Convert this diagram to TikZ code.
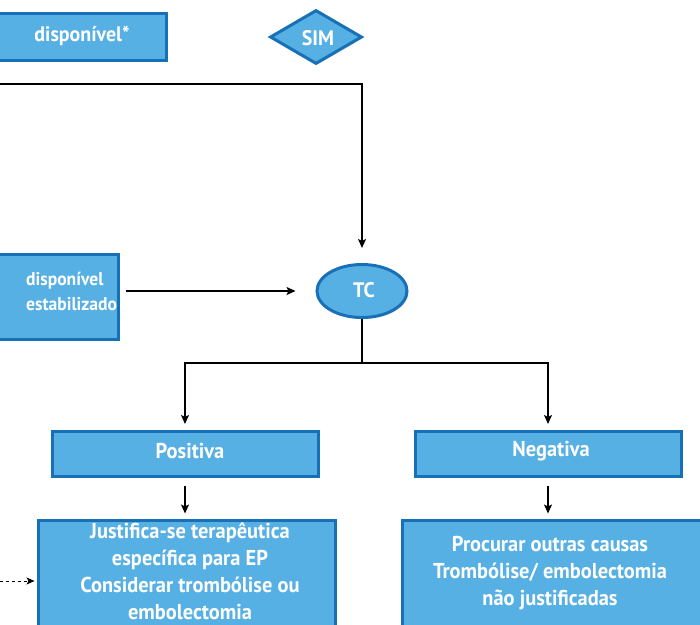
\documentclass[tikz,border=0pt]{standalone}
\usepackage{fontspec}
\setmainfont[FakeStretch=0.95]{PT Sans}
\usetikzlibrary{shapes.geometric,arrows.meta,shadows}
\definecolor{boxfill}{HTML}{56B0E3}
\definecolor{boxline}{HTML}{1870B6}
\begin{document}
\begin{tikzpicture}[x=1pt,y=-1pt,
  bluebox/.style={draw=boxline,line width=3pt,fill=boxfill,inner sep=0pt,
    drop shadow={opacity=0.18,shadow xshift=1.5pt,shadow yshift=-1.5pt}},
  rectbox/.style={bluebox,rectangle},
  wtext/.style={text=white,font=\bfseries\fontsize{21.5}{27}\selectfont,align=center,inner sep=0pt},
  conn/.style={line width=1.5pt,black},
  arr/.style={conn,-{Stealth[length=9pt,width=8pt,inset=2pt]}}]
\useasboundingbox (0,0) rectangle (700,624);
\clip (0,0) rectangle (700,624);
% top left box
\node[rectbox,minimum width=176pt,minimum height=47pt] (d1) at (78,36.5) {};
\node[wtext,font=\bfseries\fontsize{21}{22}\selectfont] (d1t) at (82,36) {disponível*};
% SIM diamond
\node[bluebox,diamond,minimum width=92pt,minimum height=54pt,aspect=1.7] (sim) at (316,37) {};
\node[wtext,font=\bfseries\fontsize{21}{22}\selectfont] (simt) at (318,38) {SIM};
% left middle box
\node[rectbox,minimum width=138pt,minimum height=85pt] (d2) at (49,296.5) {};
\node[wtext,font=\bfseries\fontsize{18.5}{25}\selectfont,align=left,anchor=west] (d2t) at (26,291) {disponível\\estabilizado};
% TC ellipse
\node[bluebox,ellipse,minimum width=90pt,minimum height=53pt] (tc) at (362,291) {};
\node[wtext,font=\bfseries\fontsize{21}{22}\selectfont] (tct) at (364,290) {TC};
% Positiva / Negativa
\node[rectbox,minimum width=266pt,minimum height=45pt] (pos) at (185,454) {};
\node[wtext] (post) at (190,451) {Positiva};
\node[rectbox,minimum width=266pt,minimum height=45pt] (neg) at (548,454) {};
\node[wtext] (negt) at (551,451) {Negativa};
% bottom boxes
\node[rectbox,minimum width=297pt,minimum height=140pt] (bl) at (186.5,590) {};
\node[wtext] (blt) at (190,571) {Justifica-se terapêutica\\específica para EP\\Considerar trombólise ou\\embolectomia};
\node[rectbox,minimum width=318pt,minimum height=140pt] (br) at (561,590) {};
\node[wtext] (brt) at (550,573) {Procurar outras causas\\Trombólise/ embolectomia\\não justificadas};
% connectors
\coordinate (c1) at (-5,84);
\draw[arr,shorten >=15pt] (c1) -| (tc.north);
\draw[arr,shorten <=6pt,shorten >=20pt] (d2.east |- tc.west) -- (tc.west);
\draw[conn] (tc.south) -- ++(0,44) coordinate (split);
\draw[arr,shorten >=6pt] (split) -| (pos.north);
\draw[arr,shorten >=6pt] (split) -| (neg.north);
\draw[arr,shorten <=8pt,shorten >=5pt] (pos.south) -- (bl.north -| pos.south);
\draw[arr,shorten <=8pt,shorten >=5pt] (neg.south) -- (br.north -| neg.south);
\coordinate (c2) at (0,581);
\draw[conn,line width=1pt,dashed,-{Stealth[length=8pt,width=7pt,inset=2pt]},shorten >=2pt] (c2) -- (c2 -| bl.west);
\end{tikzpicture}
\end{document}
